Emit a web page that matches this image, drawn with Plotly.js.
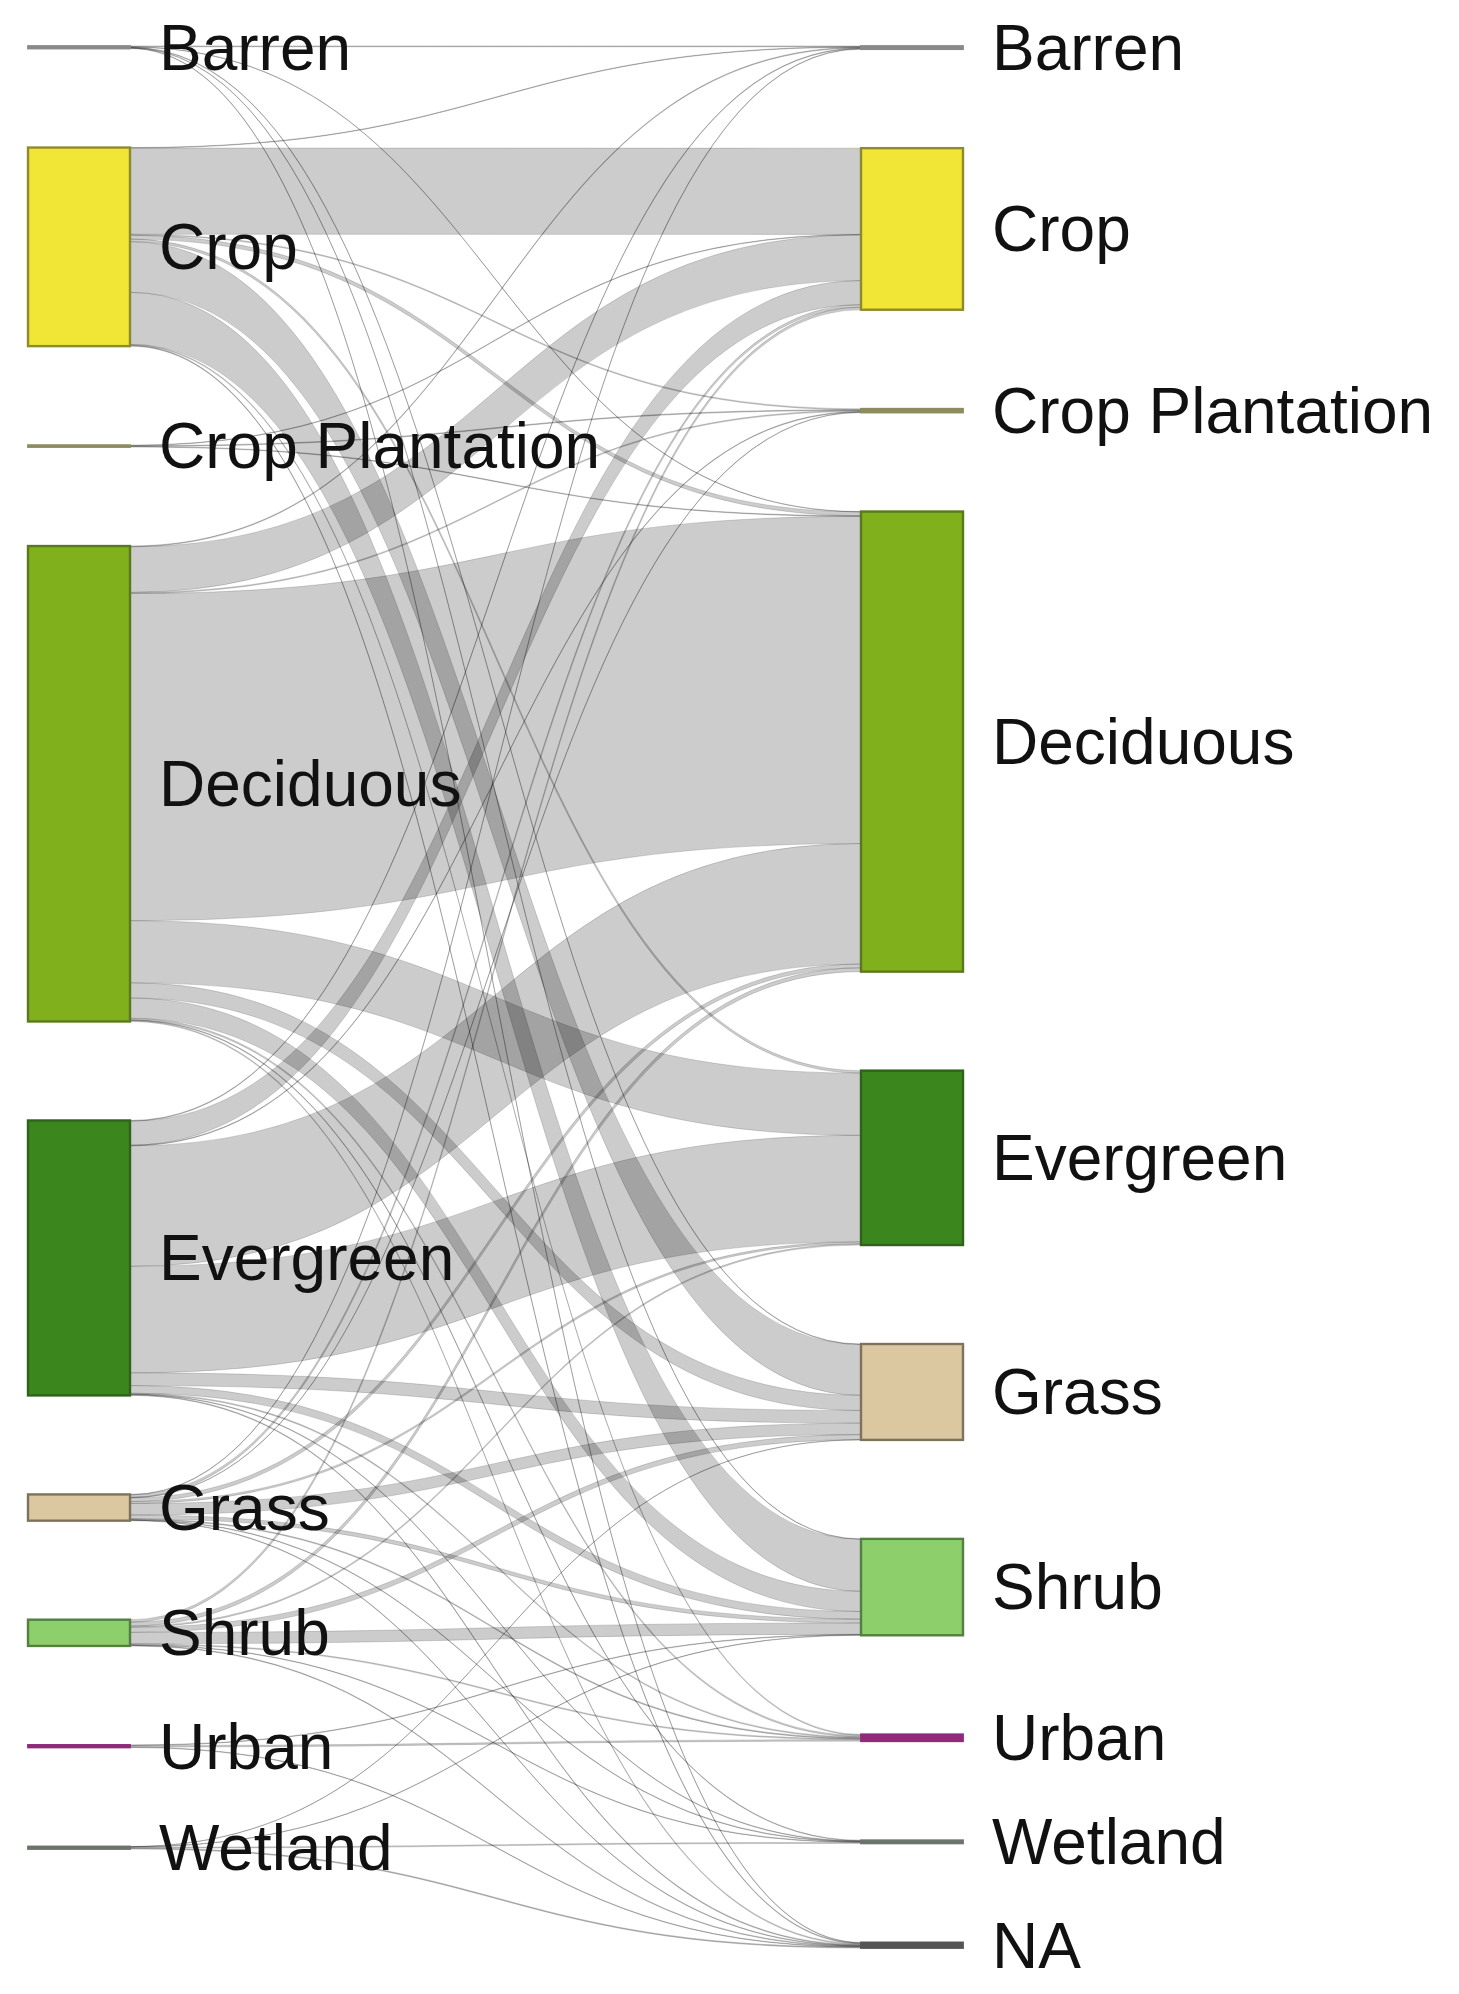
<!DOCTYPE html>
<html>
<head>
<meta charset="utf-8">
<script src="https://cdn.plot.ly/plotly-3.0.1.min.js"></script>
<style>
  html, body { margin: 0; padding: 0; background: #ffffff; }
  #chart { width: 1459px; height: 1994px; }
</style>
</head>
<body>
<div id="chart"></div>
<script>
// ---------------- DATA ----------------
// Land-cover classes at the start (left column) and at the end (right column)
const sourceClasses = ['Barren', 'Crop', 'Crop Plantation', 'Deciduous', 'Evergreen', 'Grass', 'Shrub', 'Urban', 'Wetland'];
const targetClasses = ['Barren', 'Crop', 'Crop Plantation', 'Deciduous', 'Evergreen', 'Grass', 'Shrub', 'Urban', 'Wetland', 'NA'];

// Flow from each source class to every target class (same order as targetClasses)
const flowBarren          = [0.6, 0,  0,   0.3, 0,   0.4, 0.3, 0,   0,   0.4];
const flowCrop            = [0.4, 68, 0.8, 3,   2,   40,  41,  0.8, 0,   0.6];
const flowCropPlantation  = [0,   0.4, 0.6, 0.5, 0,  0,   0,   0,   0,   0];
const flowDeciduous       = [0.6, 36, 0.8, 258, 49,  12,  16,  1.2, 0.5, 0.8];
const flowEvergreen       = [0.5, 19, 0.5, 95,  84,  10,  6,   0.8, 0.4, 0.6];
const flowGrass           = [0.4, 2,  0.3, 3,   1.5, 9,   3,   0.7, 0.4, 0.4];
const flowShrub           = [0,   2,  0,   3,   1,   4,   9,   0.8, 0.4, 0.5];
const flowUrban           = [0,   0,  0,   0,   0,   0,   0.4, 1.2, 0,   0.4];
const flowWetland         = [0,   0,  0,   0,   0,   0.2, 0.3, 0,   0.8, 0.7];

const flowRows = [flowBarren, flowCrop, flowCropPlantation, flowDeciduous, flowEvergreen,
                  flowGrass, flowShrub, flowUrban, flowWetland];

// ---------------- STYLE ----------------
const fillColors = {
  'Barren': '#8a8a8a', 'Crop': '#f1e535', 'Crop Plantation': '#8e8c5f', 'Deciduous': '#80b11c',
  'Evergreen': '#3b861d', 'Grass': '#dbc8a0', 'Shrub': '#8ccf6b', 'Urban': '#922a7c',
  'Wetland': '#6b756a', 'NA': '#555555'
};
const lineColors = {
  'Barren': '#8a8a8a', 'Crop': '#8e8b2e', 'Crop Plantation': '#8e8c5f', 'Deciduous': '#5b781c',
  'Evergreen': '#2d6419', 'Grass': '#7f725b', 'Shrub': '#557f42', 'Urban': '#922a7c',
  'Wetland': '#6b756a', 'NA': '#555555'
};
const MARGIN = { l: 28, r: 496, t: 46, b: 46 };
const FIG_W = 1459, FIG_H = 1994;
const NODE_THICK = 102, NODE_PAD = 99, LABEL_GAP = 29, FONT_SIZE = 64;

// ---------------- BUILD ----------------
const nSrc = sourceClasses.length;
const nodeLabels = sourceClasses.concat(targetClasses);
const nodeFill = nodeLabels.map(function (l) { return fillColors[l]; });

const linkSource = [], linkTarget = [], linkValue = [];
flowRows.forEach(function (row, i) {
  row.forEach(function (v, j) {
    if (v > 0) { linkSource.push(i); linkTarget.push(nSrc + j); linkValue.push(v); }
  });
});
const linkLineW = linkValue.map(function (v) { return v < 2 ? 1.1 : 0; });

// column stacking (top-aligned, same padding in both columns)
const plotW = FIG_W - MARGIN.l - MARGIN.r;
const plotH = FIG_H - MARGIN.t - MARGIN.b;
function sum(a) { return a.reduce(function (s, v) { return s + v; }, 0); }
const srcTotals = flowRows.map(sum);
const tgtTotals = targetClasses.map(function (_, j) { return sum(flowRows.map(function (r) { return r[j]; })); });
const ky = Math.min(
  (plotH - (srcTotals.length - 1) * NODE_PAD) / sum(srcTotals),
  (plotH - (tgtTotals.length - 1) * NODE_PAD) / sum(tgtTotals)
);
function stack(vals) {
  let y = 0;
  return vals.map(function (v) {
    const h = v * ky;
    const c = (y + h / 2) / plotH;
    y += h + NODE_PAD;
    return c;
  });
}
const nodeY = stack(srcTotals).concat(stack(tgtTotals));
const xLeft = (NODE_THICK / 2) / plotW, xRight = 1 - xLeft;
const nodeX = sourceClasses.map(function () { return xLeft; })
  .concat(targetClasses.map(function () { return xRight; }));

const trace = {
  type: 'sankey',
  orientation: 'h',
  arrangement: 'snap',
  domain: { x: [0, 1], y: [0, 1] },
  node: {
    label: nodeLabels,
    color: nodeFill,
    line: { color: 'rgba(0,0,0,0.35)', width: 2.4 },
    thickness: NODE_THICK,
    pad: NODE_PAD,
    x: nodeX,
    y: nodeY,
    hoverinfo: 'none'
  },
  link: {
    source: linkSource,
    target: linkTarget,
    value: linkValue,
    color: 'rgba(0,0,0,0.2)',
    line: { color: 'rgba(0,0,0,0.15)', width: linkLineW },
    hoverinfo: 'none'
  },
  textfont: { family: '"Liberation Sans", Arial, sans-serif', size: FONT_SIZE, color: '#111111', shadow: 'none' }
};

const layout = {
  width: FIG_W,
  height: FIG_H,
  margin: MARGIN,
  paper_bgcolor: '#ffffff',
  plot_bgcolor: '#ffffff',
  font: { family: '"Liberation Sans", Arial, sans-serif', size: FONT_SIZE, color: '#111111' },
  showlegend: false
};

const gd = document.getElementById('chart');
Plotly.newPlot(gd, [trace], layout, { displayModeBar: false, responsive: false }).then(function () {
  gd.querySelectorAll('.sankey-node').forEach(function (g) {
    const t = g.querySelector('.node-label');
    const r = g.querySelector('.node-rect');
    if (!t || !r) return;
    const w = parseFloat(r.getAttribute('width')) || NODE_THICK;
    const h = parseFloat(r.getAttribute('height')) || 0;
    // label to the right of its node, vertically centred, as in the reference
    t.setAttribute('text-anchor', 'start');
    t.setAttribute('transform', 'translate(' + (w + LABEL_GAP) + ',' + (h / 2 + 0.35 * FONT_SIZE) + ')');
    t.style.textShadow = 'none';
    // per-class border colour
    const name = (t.textContent || '').trim();
    if (lineColors[name]) {
      r.style.stroke = lineColors[name];
      r.style.strokeOpacity = 1;
      r.style.strokeWidth = (h < 10 ? 1.8 : 2.4) + 'px';
    }
  });
});
</script>
</body>
</html>
